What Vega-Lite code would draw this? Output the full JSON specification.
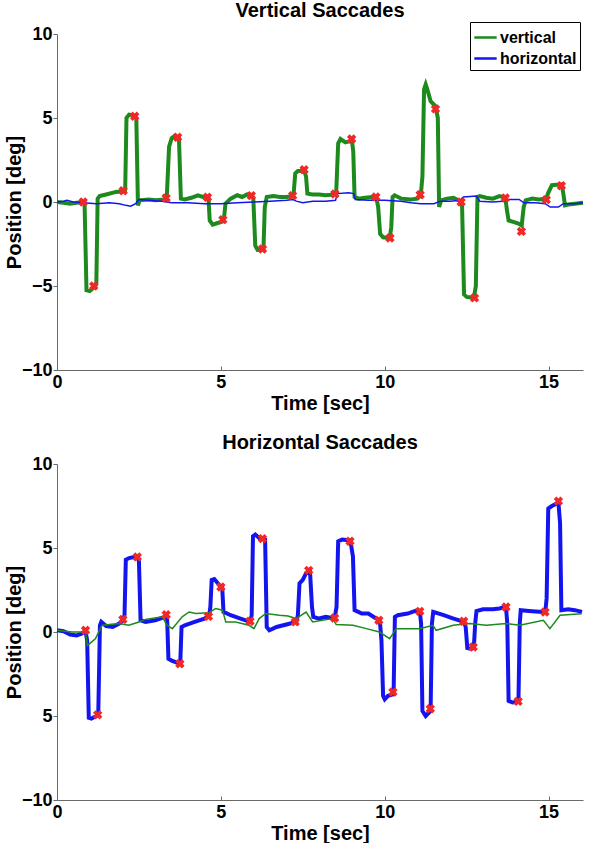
{
  "$schema": "https://vega.github.io/schema/vega-lite/v6.json",
  "padding": {"left": 4, "top": 0, "right": 4, "bottom": 0},
  "spacing": 20,
  "datasets": {
    "topLines": [
      {"s":"vertical","t":0,"v":0},{"s":"vertical","t":0.2,"v":-0.05},{"s":"vertical","t":0.4,"v":-0.1},{"s":"vertical","t":0.6,"v":-0.05},{"s":"vertical","t":0.8,"v":0},{"s":"vertical","t":0.84,"v":0},{"s":"vertical","t":0.9,"v":-5.25},{"s":"vertical","t":1.0,"v":-5.3},{"s":"vertical","t":1.12,"v":-5.1},{"s":"vertical","t":1.2,"v":-4.9},{"s":"vertical","t":1.24,"v":0.2},{"s":"vertical","t":1.3,"v":0.35},{"s":"vertical","t":1.5,"v":0.45},{"s":"vertical","t":1.8,"v":0.6},{"s":"vertical","t":2.05,"v":0.65},{"s":"vertical","t":2.08,"v":0.7},{"s":"vertical","t":2.12,"v":5.0},{"s":"vertical","t":2.2,"v":5.2},{"s":"vertical","t":2.38,"v":5.15},{"s":"vertical","t":2.42,"v":5.0},{"s":"vertical","t":2.47,"v":-0.2},{"s":"vertical","t":2.52,"v":0.1},{"s":"vertical","t":2.8,"v":0.15},{"s":"vertical","t":3.0,"v":0.1},{"s":"vertical","t":3.3,"v":0.15},{"s":"vertical","t":3.35,"v":0.3},{"s":"vertical","t":3.42,"v":3.3},{"s":"vertical","t":3.5,"v":3.8},{"s":"vertical","t":3.6,"v":3.95},{"s":"vertical","t":3.72,"v":3.85},{"s":"vertical","t":3.78,"v":0.2},{"s":"vertical","t":3.9,"v":0.15},{"s":"vertical","t":4.1,"v":0.25},{"s":"vertical","t":4.3,"v":0.4},{"s":"vertical","t":4.45,"v":0.3},{"s":"vertical","t":4.55,"v":0.35},{"s":"vertical","t":4.62,"v":0.3},{"s":"vertical","t":4.66,"v":-1.1},{"s":"vertical","t":4.75,"v":-1.35},{"s":"vertical","t":4.9,"v":-1.25},{"s":"vertical","t":5.06,"v":-1.15},{"s":"vertical","t":5.1,"v":-0.9},{"s":"vertical","t":5.14,"v":-0.1},{"s":"vertical","t":5.3,"v":0.2},{"s":"vertical","t":5.5,"v":0.4},{"s":"vertical","t":5.65,"v":0.3},{"s":"vertical","t":5.8,"v":0.45},{"s":"vertical","t":5.95,"v":0.4},{"s":"vertical","t":5.99,"v":0.2},{"s":"vertical","t":6.05,"v":-2.6},{"s":"vertical","t":6.12,"v":-2.85},{"s":"vertical","t":6.3,"v":-2.8},{"s":"vertical","t":6.34,"v":-0.3},{"s":"vertical","t":6.4,"v":0.3},{"s":"vertical","t":6.6,"v":0.35},{"s":"vertical","t":6.8,"v":0.3},{"s":"vertical","t":7.0,"v":0.3},{"s":"vertical","t":7.19,"v":0.35},{"s":"vertical","t":7.22,"v":0.5},{"s":"vertical","t":7.27,"v":1.7},{"s":"vertical","t":7.35,"v":1.85},{"s":"vertical","t":7.55,"v":1.85},{"s":"vertical","t":7.6,"v":1.5},{"s":"vertical","t":7.64,"v":0.5},{"s":"vertical","t":7.8,"v":0.45},{"s":"vertical","t":8.0,"v":0.45},{"s":"vertical","t":8.2,"v":0.4},{"s":"vertical","t":8.48,"v":0.45},{"s":"vertical","t":8.52,"v":0.6},{"s":"vertical","t":8.58,"v":3.5},{"s":"vertical","t":8.65,"v":3.75},{"s":"vertical","t":8.8,"v":3.55},{"s":"vertical","t":9.0,"v":3.65},{"s":"vertical","t":9.04,"v":3.0},{"s":"vertical","t":9.08,"v":0.3},{"s":"vertical","t":9.2,"v":0.2},{"s":"vertical","t":9.4,"v":0.25},{"s":"vertical","t":9.6,"v":0.3},{"s":"vertical","t":9.75,"v":0.2},{"s":"vertical","t":9.8,"v":-0.3},{"s":"vertical","t":9.86,"v":-1.9},{"s":"vertical","t":9.95,"v":-2.1},{"s":"vertical","t":10.15,"v":-2.15},{"s":"vertical","t":10.2,"v":-1.5},{"s":"vertical","t":10.24,"v":0.3},{"s":"vertical","t":10.3,"v":0.4},{"s":"vertical","t":10.5,"v":0.2},{"s":"vertical","t":10.8,"v":0.15},{"s":"vertical","t":11.0,"v":0.2},{"s":"vertical","t":11.1,"v":0.4},{"s":"vertical","t":11.15,"v":1.5},{"s":"vertical","t":11.2,"v":6.7},{"s":"vertical","t":11.25,"v":7.0},{"s":"vertical","t":11.3,"v":6.7},{"s":"vertical","t":11.4,"v":6.0},{"s":"vertical","t":11.55,"v":5.7},{"s":"vertical","t":11.62,"v":5.0},{"s":"vertical","t":11.66,"v":-0.3},{"s":"vertical","t":11.72,"v":0.1},{"s":"vertical","t":11.9,"v":0.2},{"s":"vertical","t":12.1,"v":0.25},{"s":"vertical","t":12.3,"v":0.05},{"s":"vertical","t":12.36,"v":-0.2},{"s":"vertical","t":12.42,"v":-5.5},{"s":"vertical","t":12.5,"v":-5.65},{"s":"vertical","t":12.72,"v":-5.7},{"s":"vertical","t":12.78,"v":-5.0},{"s":"vertical","t":12.83,"v":0.3},{"s":"vertical","t":12.9,"v":0.35},{"s":"vertical","t":13.1,"v":0.25},{"s":"vertical","t":13.3,"v":0.2},{"s":"vertical","t":13.5,"v":0.35},{"s":"vertical","t":13.68,"v":0.25},{"s":"vertical","t":13.73,"v":-0.5},{"s":"vertical","t":13.78,"v":-1.1},{"s":"vertical","t":13.95,"v":-1.2},{"s":"vertical","t":14.1,"v":-1.3},{"s":"vertical","t":14.18,"v":-1.4},{"s":"vertical","t":14.24,"v":-0.3},{"s":"vertical","t":14.3,"v":0.1},{"s":"vertical","t":14.5,"v":0.2},{"s":"vertical","t":14.7,"v":0.15},{"s":"vertical","t":14.93,"v":0.2},{"s":"vertical","t":14.98,"v":0.5},{"s":"vertical","t":15.05,"v":0.8},{"s":"vertical","t":15.1,"v":1.0},{"s":"vertical","t":15.4,"v":1.05},{"s":"vertical","t":15.45,"v":0.5},{"s":"vertical","t":15.5,"v":-0.2},{"s":"vertical","t":15.6,"v":-0.15},{"s":"vertical","t":15.8,"v":-0.1},{"s":"vertical","t":16.05,"v":-0.05},
      {"s":"horizontal","t":0,"v":0},{"s":"horizontal","t":0.2,"v":0.05},{"s":"horizontal","t":0.3,"v":0.1},{"s":"horizontal","t":0.5,"v":0},{"s":"horizontal","t":0.8,"v":-0.05},{"s":"horizontal","t":1.2,"v":-0.1},{"s":"horizontal","t":1.6,"v":-0.05},{"s":"horizontal","t":1.9,"v":-0.1},{"s":"horizontal","t":2.1,"v":-0.2},{"s":"horizontal","t":2.25,"v":-0.25},{"s":"horizontal","t":2.4,"v":-0.1},{"s":"horizontal","t":2.5,"v":0.15},{"s":"horizontal","t":2.8,"v":0.1},{"s":"horizontal","t":3.2,"v":0.05},{"s":"horizontal","t":3.5,"v":-0.05},{"s":"horizontal","t":4.0,"v":-0.05},{"s":"horizontal","t":4.5,"v":-0.1},{"s":"horizontal","t":5.0,"v":-0.1},{"s":"horizontal","t":5.5,"v":-0.05},{"s":"horizontal","t":6.0,"v":0},{"s":"horizontal","t":6.5,"v":0.05},{"s":"horizontal","t":7.0,"v":0.1},{"s":"horizontal","t":7.2,"v":0.15},{"s":"horizontal","t":7.3,"v":0.05},{"s":"horizontal","t":7.5,"v":-0.05},{"s":"horizontal","t":7.8,"v":0.05},{"s":"horizontal","t":8.2,"v":0.05},{"s":"horizontal","t":8.5,"v":0.1},{"s":"horizontal","t":8.55,"v":0.5},{"s":"horizontal","t":8.9,"v":0.55},{"s":"horizontal","t":9.05,"v":0.5},{"s":"horizontal","t":9.1,"v":0.15},{"s":"horizontal","t":9.5,"v":0.1},{"s":"horizontal","t":10.0,"v":0.1},{"s":"horizontal","t":10.5,"v":0.05},{"s":"horizontal","t":10.8,"v":-0.05},{"s":"horizontal","t":11.1,"v":-0.1},{"s":"horizontal","t":11.5,"v":-0.1},{"s":"horizontal","t":11.7,"v":0.05},{"s":"horizontal","t":12.0,"v":0.05},{"s":"horizontal","t":12.3,"v":0.1},{"s":"horizontal","t":12.4,"v":0.3},{"s":"horizontal","t":12.8,"v":0.35},{"s":"horizontal","t":12.9,"v":0.05},{"s":"horizontal","t":13.3,"v":0},{"s":"horizontal","t":13.6,"v":0.05},{"s":"horizontal","t":13.8,"v":0.15},{"s":"horizontal","t":14.1,"v":0.15},{"s":"horizontal","t":14.25,"v":-0.05},{"s":"horizontal","t":14.6,"v":-0.05},{"s":"horizontal","t":14.9,"v":-0.1},{"s":"horizontal","t":15.05,"v":-0.3},{"s":"horizontal","t":15.3,"v":-0.3},{"s":"horizontal","t":15.45,"v":-0.1},{"s":"horizontal","t":15.8,"v":-0.1},{"s":"horizontal","t":16.05,"v":-0.05}
    ],
    "topMarks": [
      {"t":0.8,"v":0.0},{"t":1.12,"v":-5.0},{"t":2.02,"v":0.67},{"t":2.37,"v":5.1},{"t":3.33,"v":0.24},{"t":3.68,"v":3.85},{"t":4.59,"v":0.28},{"t":5.06,"v":-1.05},{"t":5.93,"v":0.38},{"t":6.27,"v":-2.8},{"t":7.19,"v":0.38},{"t":7.54,"v":1.92},{"t":8.48,"v":0.48},{"t":8.99,"v":3.75},{"t":9.73,"v":0.3},{"t":10.16,"v":-2.14},{"t":11.08,"v":0.43},{"t":11.55,"v":5.54},{"t":12.33,"v":0.0},{"t":12.74,"v":-5.71},{"t":13.68,"v":0.24},{"t":14.17,"v":-1.75},{"t":14.93,"v":0.14},{"t":15.39,"v":0.97}
    ],
    "bottomLines": [
      {"s":"horizontal","t":0,"v":0.1},{"s":"horizontal","t":0.2,"v":0.05},{"s":"horizontal","t":0.4,"v":-0.15},{"s":"horizontal","t":0.6,"v":-0.2},{"s":"horizontal","t":0.75,"v":-0.1},{"s":"horizontal","t":0.87,"v":0.05},{"s":"horizontal","t":0.92,"v":-0.5},{"s":"horizontal","t":0.97,"v":-5.1},{"s":"horizontal","t":1.05,"v":-5.15},{"s":"horizontal","t":1.2,"v":-5.0},{"s":"horizontal","t":1.26,"v":-4.8},{"s":"horizontal","t":1.31,"v":0.4},{"s":"horizontal","t":1.35,"v":0.6},{"s":"horizontal","t":1.5,"v":0.35},{"s":"horizontal","t":1.7,"v":0.3},{"s":"horizontal","t":1.9,"v":0.5},{"s":"horizontal","t":2.02,"v":0.7},{"s":"horizontal","t":2.06,"v":1.0},{"s":"horizontal","t":2.1,"v":4.3},{"s":"horizontal","t":2.2,"v":4.4},{"s":"horizontal","t":2.45,"v":4.5},{"s":"horizontal","t":2.5,"v":4.2},{"s":"horizontal","t":2.55,"v":0.7},{"s":"horizontal","t":2.7,"v":0.6},{"s":"horizontal","t":3.0,"v":0.7},{"s":"horizontal","t":3.3,"v":0.9},{"s":"horizontal","t":3.36,"v":0.8},{"s":"horizontal","t":3.4,"v":-1.6},{"s":"horizontal","t":3.5,"v":-1.7},{"s":"horizontal","t":3.7,"v":-1.85},{"s":"horizontal","t":3.76,"v":-1.9},{"s":"horizontal","t":3.8,"v":0.3},{"s":"horizontal","t":3.9,"v":0.4},{"s":"horizontal","t":4.2,"v":0.6},{"s":"horizontal","t":4.5,"v":0.8},{"s":"horizontal","t":4.64,"v":0.95},{"s":"horizontal","t":4.68,"v":1.5},{"s":"horizontal","t":4.72,"v":3.1},{"s":"horizontal","t":4.8,"v":3.15},{"s":"horizontal","t":4.95,"v":2.8},{"s":"horizontal","t":5.04,"v":2.7},{"s":"horizontal","t":5.08,"v":1.2},{"s":"horizontal","t":5.3,"v":1.0},{"s":"horizontal","t":5.6,"v":0.8},{"s":"horizontal","t":5.9,"v":0.6},{"s":"horizontal","t":5.94,"v":1.0},{"s":"horizontal","t":5.98,"v":5.7},{"s":"horizontal","t":6.05,"v":5.8},{"s":"horizontal","t":6.2,"v":5.55},{"s":"horizontal","t":6.35,"v":5.5},{"s":"horizontal","t":6.4,"v":0.3},{"s":"horizontal","t":6.48,"v":0.1},{"s":"horizontal","t":6.7,"v":0.3},{"s":"horizontal","t":7.0,"v":0.45},{"s":"horizontal","t":7.3,"v":0.6},{"s":"horizontal","t":7.35,"v":1.0},{"s":"horizontal","t":7.4,"v":2.9},{"s":"horizontal","t":7.5,"v":3.1},{"s":"horizontal","t":7.6,"v":3.5},{"s":"horizontal","t":7.72,"v":3.6},{"s":"horizontal","t":7.78,"v":1.5},{"s":"horizontal","t":7.82,"v":0.9},{"s":"horizontal","t":8.0,"v":0.8},{"s":"horizontal","t":8.2,"v":0.9},{"s":"horizontal","t":8.47,"v":0.8},{"s":"horizontal","t":8.53,"v":1.5},{"s":"horizontal","t":8.58,"v":5.4},{"s":"horizontal","t":8.7,"v":5.5},{"s":"horizontal","t":8.95,"v":5.45},{"s":"horizontal","t":9.03,"v":4.5},{"s":"horizontal","t":9.08,"v":1.3},{"s":"horizontal","t":9.3,"v":1.1},{"s":"horizontal","t":9.5,"v":1.1},{"s":"horizontal","t":9.7,"v":0.85},{"s":"horizontal","t":9.85,"v":0.7},{"s":"horizontal","t":9.9,"v":-0.5},{"s":"horizontal","t":9.95,"v":-3.8},{"s":"horizontal","t":10.0,"v":-4.0},{"s":"horizontal","t":10.1,"v":-3.8},{"s":"horizontal","t":10.27,"v":-3.7},{"s":"horizontal","t":10.31,"v":0.9},{"s":"horizontal","t":10.4,"v":1.0},{"s":"horizontal","t":10.7,"v":1.1},{"s":"horizontal","t":11.0,"v":1.3},{"s":"horizontal","t":11.07,"v":1.25},{"s":"horizontal","t":11.11,"v":0.5},{"s":"horizontal","t":11.15,"v":-4.7},{"s":"horizontal","t":11.25,"v":-5.0},{"s":"horizontal","t":11.4,"v":-4.7},{"s":"horizontal","t":11.44,"v":0.5},{"s":"horizontal","t":11.48,"v":1.2},{"s":"horizontal","t":11.8,"v":1.0},{"s":"horizontal","t":12.1,"v":0.8},{"s":"horizontal","t":12.42,"v":0.6},{"s":"horizontal","t":12.47,"v":0.3},{"s":"horizontal","t":12.52,"v":-0.95},{"s":"horizontal","t":12.65,"v":-1.0},{"s":"horizontal","t":12.72,"v":-0.9},{"s":"horizontal","t":12.76,"v":0.5},{"s":"horizontal","t":12.8,"v":1.25},{"s":"horizontal","t":13.0,"v":1.35},{"s":"horizontal","t":13.3,"v":1.35},{"s":"horizontal","t":13.5,"v":1.4},{"s":"horizontal","t":13.7,"v":1.5},{"s":"horizontal","t":13.74,"v":0.5},{"s":"horizontal","t":13.78,"v":-4.1},{"s":"horizontal","t":13.9,"v":-4.2},{"s":"horizontal","t":14.08,"v":-4.15},{"s":"horizontal","t":14.12,"v":0.5},{"s":"horizontal","t":14.15,"v":1.3},{"s":"horizontal","t":14.4,"v":1.25},{"s":"horizontal","t":14.7,"v":1.2},{"s":"horizontal","t":14.9,"v":1.2},{"s":"horizontal","t":14.94,"v":2.0},{"s":"horizontal","t":14.99,"v":7.35},{"s":"horizontal","t":15.1,"v":7.5},{"s":"horizontal","t":15.3,"v":7.7},{"s":"horizontal","t":15.35,"v":6.5},{"s":"horizontal","t":15.39,"v":1.3},{"s":"horizontal","t":15.6,"v":1.35},{"s":"horizontal","t":15.8,"v":1.3},{"s":"horizontal","t":16.02,"v":1.2},
      {"s":"vertical","t":0,"v":0.1},{"s":"vertical","t":0.46,"v":0},{"s":"vertical","t":0.87,"v":0},{"s":"vertical","t":0.93,"v":-0.8},{"s":"vertical","t":1.17,"v":-0.4},{"s":"vertical","t":1.38,"v":0.4},{"s":"vertical","t":1.89,"v":0.5},{"s":"vertical","t":2.19,"v":0.4},{"s":"vertical","t":2.5,"v":0.6},{"s":"vertical","t":2.7,"v":0.75},{"s":"vertical","t":3.21,"v":0.9},{"s":"vertical","t":3.36,"v":0.4},{"s":"vertical","t":3.52,"v":0.2},{"s":"vertical","t":3.82,"v":0.9},{"s":"vertical","t":4.03,"v":1.19},{"s":"vertical","t":4.23,"v":1.1},{"s":"vertical","t":4.64,"v":1.15},{"s":"vertical","t":4.84,"v":1.4},{"s":"vertical","t":5.05,"v":1.3},{"s":"vertical","t":5.15,"v":0.6},{"s":"vertical","t":5.45,"v":0.6},{"s":"vertical","t":5.86,"v":0.4},{"s":"vertical","t":6.01,"v":0.2},{"s":"vertical","t":6.17,"v":0.8},{"s":"vertical","t":6.37,"v":1.1},{"s":"vertical","t":6.78,"v":1.0},{"s":"vertical","t":7.05,"v":0.95},{"s":"vertical","t":7.29,"v":0.8},{"s":"vertical","t":7.6,"v":1.19},{"s":"vertical","t":7.8,"v":0.6},{"s":"vertical","t":8.41,"v":0.8},{"s":"vertical","t":8.52,"v":0.44},{"s":"vertical","t":9.03,"v":0.4},{"s":"vertical","t":9.44,"v":0.2},{"s":"vertical","t":9.84,"v":0},{"s":"vertical","t":10.15,"v":-0.4},{"s":"vertical","t":10.35,"v":0.2},{"s":"vertical","t":11.07,"v":0.2},{"s":"vertical","t":11.47,"v":0.4},{"s":"vertical","t":11.57,"v":0.1},{"s":"vertical","t":12.09,"v":0.4},{"s":"vertical","t":12.59,"v":0.5},{"s":"vertical","t":13.1,"v":0.4},{"s":"vertical","t":13.71,"v":0.5},{"s":"vertical","t":14.12,"v":0.4},{"s":"vertical","t":14.84,"v":0.7},{"s":"vertical","t":15.04,"v":0.2},{"s":"vertical","t":15.35,"v":1.0},{"s":"vertical","t":16.01,"v":1.09}
    ],
    "bottomMarks": [
      {"t":0.87,"v":0.1},{"t":1.24,"v":-4.93},{"t":2.01,"v":0.75},{"t":2.45,"v":4.47},{"t":3.33,"v":1.03},{"t":3.75,"v":-1.89},{"t":4.62,"v":0.93},{"t":5.0,"v":2.68},{"t":5.89,"v":0.64},{"t":6.27,"v":5.56},{"t":7.27,"v":0.6},{"t":7.68,"v":3.67},{"t":8.47,"v":0.83},{"t":8.94,"v":5.4},{"t":9.82,"v":0.7},{"t":10.25,"v":-3.57},{"t":11.07,"v":1.23},{"t":11.39,"v":-4.57},{"t":12.41,"v":0.64},{"t":12.7,"v":-0.89},{"t":13.7,"v":1.49},{"t":14.07,"v":-4.13},{"t":14.89,"v":1.19},{"t":15.3,"v":7.79}
    ]
  },
  "vconcat": [
    {
      "title": {"text": "Vertical Saccades", "offset": 1},
      "width": 526,
      "height": 336,
      "layer": [
        {
          "data": {"name": "topLines"},
          "transform": [{"filter": "datum.s === 'vertical'"}],
          "mark": {"type": "line", "strokeWidth": 4},
          "encoding": {
            "x": {"field": "t", "type": "quantitative", "scale": {"domain": [0, 16.05], "nice": false}, "axis": {"title": "Time [sec]", "values": [0, 5, 10, 15]}},
            "y": {"field": "v", "type": "quantitative", "scale": {"domain": [-10, 10], "nice": false}, "axis": {"title": "Position [deg]", "values": [-10, -5, 0, 5, 10]}},
            "color": {"field": "s", "type": "nominal", "scale": {"domain": ["vertical", "horizontal"], "range": ["#1c8a1c", "#1414f0"]},
              "legend": {"orient": "none", "legendX": 413, "legendY": -12, "title": null,
                "encode": {"symbols": {"update": {"stroke": {"signal": "datum.value === 'vertical' ? '#2ed42e' : '#1414f0'"}}}}}}
          }
        },
        {
          "data": {"name": "topLines"},
          "transform": [{"filter": "datum.s === 'horizontal'"}],
          "mark": {"type": "line", "strokeWidth": 1.5},
          "encoding": {
            "x": {"field": "t", "type": "quantitative"},
            "y": {"field": "v", "type": "quantitative"},
            "color": {"field": "s", "type": "nominal"}
          }
        },
        {
          "data": {"name": "topMarks"},
          "mark": {"type": "point", "shape": "cross", "angle": 45, "filled": true, "size": 90, "color": "#f02828", "opacity": 1},
          "encoding": {
            "x": {"field": "t", "type": "quantitative"},
            "y": {"field": "v", "type": "quantitative"}
          }
        }
      ]
    },
    {
      "title": {"text": "Horizontal Saccades", "offset": 2},
      "width": 526,
      "height": 336,
      "layer": [
        {
          "data": {"name": "bottomLines"},
          "transform": [{"filter": "datum.s === 'horizontal'"}],
          "mark": {"type": "line", "strokeWidth": 4},
          "encoding": {
            "x": {"field": "t", "type": "quantitative", "scale": {"domain": [0, 16.05], "nice": false}, "axis": {"title": "Time [sec]", "values": [0, 5, 10, 15]}},
            "y": {"field": "v", "type": "quantitative", "scale": {"domain": [-10, 10], "nice": false}, "axis": {"title": "Position [deg]", "values": [-10, -5, 0, 5, 10], "labelExpr": "datum.value === -5 ? '5' : datum.label"}},
            "color": {"field": "s", "type": "nominal", "scale": {"domain": ["vertical", "horizontal"], "range": ["#1c8a1c", "#1414f0"]}, "legend": null}
          }
        },
        {
          "data": {"name": "bottomLines"},
          "transform": [{"filter": "datum.s === 'vertical'"}],
          "mark": {"type": "line", "strokeWidth": 1.5},
          "encoding": {
            "x": {"field": "t", "type": "quantitative"},
            "y": {"field": "v", "type": "quantitative"},
            "color": {"field": "s", "type": "nominal", "legend": null}
          }
        },
        {
          "data": {"name": "bottomMarks"},
          "mark": {"type": "point", "shape": "cross", "angle": 45, "filled": true, "size": 90, "color": "#f02828", "opacity": 1},
          "encoding": {
            "x": {"field": "t", "type": "quantitative"},
            "y": {"field": "v", "type": "quantitative"}
          }
        }
      ]
    }
  ],
  "resolve": {"scale": {"color": "independent"}, "legend": {"color": "independent"}},
  "config": {
    "font": "Liberation Sans",
    "view": {"stroke": null},
    "axis": {
      "grid": false,
      "labelFont": "Liberation Sans",
      "labelFontWeight": "bold",
      "labelFontSize": 18,
      "labelColor": "#000000",
      "labelFlush": false,
      "labelOverlap": false,
      "titleFont": "Liberation Sans",
      "titleFontWeight": "bold",
      "titleFontSize": 20,
      "titleColor": "#000000",
      "domainColor": "#6a6a6a",
      "tickColor": "#6a6a6a",
      "tickSize": 4
    },
    "axisX": {"tickSize": -4, "labelPadding": 7, "titlePadding": 2},
    "axisY": {"labelPadding": 1, "titlePadding": -3},
    "title": {"font": "Liberation Sans", "fontSize": 20, "fontWeight": "bold", "color": "#000000"},
    "legend": {
      "labelFont": "Liberation Sans",
      "labelFontSize": 16,
      "labelFontWeight": "bold",
      "labelColor": "#000000",
      "symbolType": "stroke",
      "symbolSize": 500,
      "symbolStrokeWidth": 2.5,
      "strokeColor": "#000000",
      "fillColor": "#ffffff",
      "padding": 3,
      "rowPadding": 0,
      "labelOffset": 2
    }
  }
}
